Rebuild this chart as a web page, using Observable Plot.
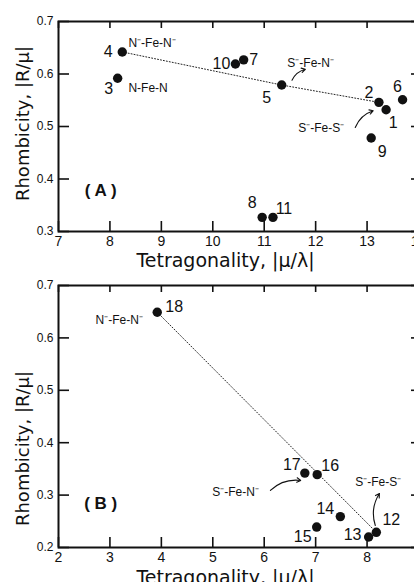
<!DOCTYPE html>
<html>
<head>
<meta charset="utf-8">
<script src="https://cdn.jsdelivr.net/npm/d3@7"></script>
<script src="https://cdn.jsdelivr.net/npm/@observablehq/plot@0.6"></script>
<style>
  html, body { margin: 0; padding: 0; background: #fff; overflow: hidden; }
  #chart { width: 414px; height: 582px; overflow: hidden; position: relative; }
  #chart svg { display: block; }
</style>
</head>
<body>
<div id="chart"></div>
<script>
// ---------- Panel A data ----------
const idsA   = [1, 2, 3, 4, 5, 6, 7, 8, 9, 10, 11];
const tetraA = [13.37, 13.23, 8.15, 8.24, 11.34, 13.69, 10.60, 10.96, 13.08, 10.44, 11.17];
const rhombA = [0.532, 0.546, 0.592, 0.642, 0.579, 0.551, 0.627, 0.327, 0.478, 0.619, 0.327];
const trendIdsA = [4, 5, 2];
const xTicksA = [7, 8, 9, 10, 11, 12, 13, 14];
const yTicksA = [0.3, 0.4, 0.5, 0.6, 0.7];
const ligandTextA = ["N\u207B-Fe-N\u207B", "N-Fe-N", "S\u207B-Fe-N\u207B", "S\u207B-Fe-S\u207B"];
const ligandXA = [8.36, 8.36, 11.45, 11.66];
const ligandYA = [0.658, 0.573, 0.620, 0.496];
const arrowX1A = [11.54, 12.77];
const arrowY1A = [0.588, 0.498];
const arrowX2A = [11.80, 13.12];
const arrowY2A = [0.609, 0.530];
const tagA = "( A )", tagXA = 7.82, tagYA = 0.378;

// ---------- Panel B data ----------
const idsB   = [12, 13, 14, 15, 16, 17, 18];
const tetraB = [8.18, 8.03, 7.48, 7.02, 7.03, 6.79, 3.92];
const rhombB = [0.229, 0.220, 0.259, 0.239, 0.339, 0.342, 0.649];
const trendIdsB = [18, 12];
const xTicksB = [2, 3, 4, 5, 6, 7, 8, 9];
const yTicksB = [0.2, 0.3, 0.4, 0.5, 0.6, 0.7];
const ligandTextB = ["N\u207B-Fe-N\u207B", "S\u207B-Fe-N\u207B", "S\u207B-Fe-S\u207B"];
const ligandXB = [2.72, 4.99, 7.77];
const ligandYB = [0.633, 0.305, 0.324];
const arrowX1B = [6.12, 8.16];
const arrowY1B = [0.309, 0.242];
const arrowX2B = [6.71, 8.24];
const arrowY2B = [0.328, 0.303];
const tagB = "( B )", tagXB = 2.82, tagYB = 0.284;

const xTitle = "Tetragonality, |\u03BC/\u03BB|";
const yTitle = "Rhombicity, |R/\u03BC|";

// ---------- layout (pixel offsets of the point number labels) ----------
const numberOffsets = {
  1: [7, 13], 2: [-10, -9], 3: [-9, 11], 4: [-14, 0], 5: [-15, 13], 6: [-5, -13],
  7: [10, 0], 8: [-10, -14], 9: [11, 14], 10: [-14, 0], 11: [11, -8],
  12: [15, -12], 13: [-16, -2], 14: [-15, -8], 15: [-14, 10], 16: [13, -9],
  17: [-13, -8], 18: [17, -5]
};

const SANS = "'Liberation Sans', Arial, Helvetica, sans-serif";
const TITLE_FONT = "'DejaVu Sans', 'Liberation Sans', sans-serif";
const W = 420, ML = 58, MR = 2;

function panel(cfg) {
  const pts = cfg.ids.map((id, i) => ({id, x: cfg.xs[i], y: cfg.ys[i]}));
  const byId = new Map(pts.map(p => [p.id, p]));
  const trend = cfg.trendIds.map(id => byId.get(id));
  const innerH = cfg.height - cfg.marginTop - cfg.marginBottom;
  const innerW = W - ML - MR;
  const ligands = cfg.ligText.map((t, i) => ({t, x: cfg.ligX[i], y: cfg.ligY[i]}));
  const arrows = cfg.ax1.map((v, i) => ({x1: v, y1: cfg.ay1[i], x2: cfg.ax2[i], y2: cfg.ay2[i]}));
  const numberMarks = pts.map(p => Plot.text([p], {
    x: "x", y: "y", text: d => String(d.id),
    dx: numberOffsets[p.id][0], dy: numberOffsets[p.id][1],
    fontSize: 16, fill: "#111"
  }));
  return Plot.plot({
    width: W, height: cfg.height,
    marginTop: cfg.marginTop, marginBottom: cfg.marginBottom,
    marginLeft: ML, marginRight: MR,
    x: {domain: cfg.xDomain},
    y: {domain: cfg.yDomain},
    style: {fontFamily: SANS, background: "white", maxWidth: "none", color: "#111", overflow: "hidden"},
    marks: [
      Plot.frame({stroke: "#111", strokeWidth: 2}),
      // inward ticks
      Plot.ruleX(cfg.xTicks, {insetTop: innerH - 10, stroke: "#111", strokeWidth: 1.6}),
      Plot.ruleX(cfg.xTicks, {insetBottom: innerH - 7, stroke: "#111", strokeWidth: 1.6}),
      Plot.ruleY(cfg.yTicks, {insetRight: innerW - 11, stroke: "#111", strokeWidth: 1.6}),
      Plot.ruleY(cfg.yTicks, {insetLeft: innerW - 7, stroke: "#111", strokeWidth: 1.6}),
      Plot.axisX({ticks: cfg.xTicks, tickSize: 0, tickPadding: 5, fontSize: 14, label: null, tickFormat: d => String(d)}),
      Plot.axisY({ticks: cfg.yTicks, tickSize: 0, tickPadding: 5, fontSize: 12, label: null, tickFormat: d3.format(".1f")}),
      Plot.line(trend, {x: "x", y: "y", stroke: "#222", strokeWidth: 1, strokeDasharray: "1 2"}),
      Plot.dot(pts, {x: "x", y: "y", r: 4.7, fill: "#111", stroke: "none"}),
      ...numberMarks,
      Plot.text(ligands, {x: "x", y: "y", text: "t", textAnchor: "start", fontSize: 12, fill: "#111"}),
      Plot.arrow(arrows, {x1: "x1", y1: "y1", x2: "x2", y2: "y2", bend: 25, headLength: 6, stroke: "#111", strokeWidth: 1.1}),
      Plot.text([cfg.tag], {x: cfg.tagX, y: cfg.tagY, text: d => d, fontSize: 17, fontWeight: "bold", fill: "#111"}),
      Plot.text([xTitle], {frameAnchor: "bottom", textAnchor: "middle", lineAnchor: "middle", dx: -13, dy: cfg.xTitleDy, text: d => d, fontSize: 19, fontFamily: TITLE_FONT, fill: "#111"}),
      Plot.text([yTitle], {frameAnchor: "left", textAnchor: "middle", lineAnchor: "middle", rotate: -90, dx: -35, dy: cfg.yTitleDy, text: d => d, fontSize: 18, fontFamily: TITLE_FONT, fill: "#111"})
    ]
  });
}

const chart = document.getElementById("chart");
chart.append(panel({
  ids: idsA, xs: tetraA, ys: rhombA, trendIds: trendIdsA,
  xTicks: xTicksA, yTicks: yTicksA, xDomain: [7, 14], yDomain: [0.3, 0.7],
  height: 274, marginTop: 21, marginBottom: 43,
  ligText: ligandTextA, ligX: ligandXA, ligY: ligandYA,
  ax1: arrowX1A, ay1: arrowY1A, ax2: arrowX2A, ay2: arrowY2A,
  tag: tagA, tagX: tagXA, tagY: tagYA, xTitleDy: 29, yTitleDy: -3
}));
chart.append(panel({
  ids: idsB, xs: tetraB, ys: rhombB, trendIds: trendIdsB,
  xTicks: xTicksB, yTicks: yTicksB, xDomain: [2, 9], yDomain: [0.2, 0.7],
  height: 308, marginTop: 11, marginBottom: 35,
  ligText: ligandTextB, ligX: ligandXB, ligY: ligandYB,
  ax1: arrowX1B, ay1: arrowY1B, ax2: arrowX2B, ay2: arrowY2B,
  tag: tagB, tagX: tagXB, tagY: tagYB, xTitleDy: 30, yTitleDy: 32
}));
</script>
</body>
</html>
